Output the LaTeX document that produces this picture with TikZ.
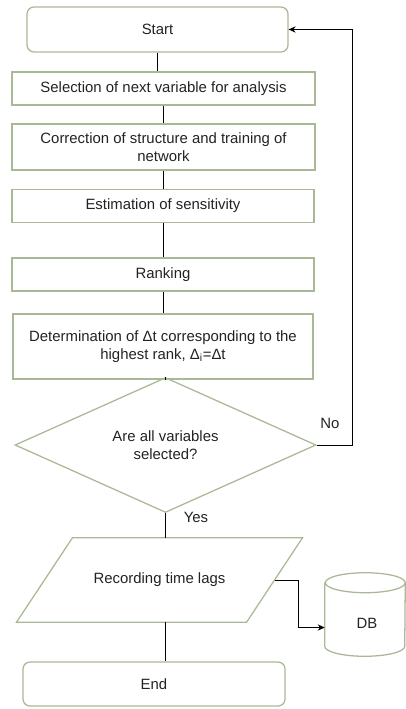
\documentclass[tikz,border=0pt]{standalone}
\usepackage{fontspec}
\setmainfont{Liberation Sans}
\usetikzlibrary{arrows.meta,shapes.geometric}
\definecolor{sage}{HTML}{A9B896}
\definecolor{txt}{HTML}{222222}
\newlength\pxu
\setlength\pxu{0.025cm}

\begin{document}
\begin{tikzpicture}[x=0.025cm,y=-0.025cm,
  every node/.style={font=\fontsize{10.6}{12.8}\selectfont,text=txt},
  edge/.style={draw=sage,line width=0.9pt},
  box/.style={edge,align=center,inner sep=2pt},
  term/.style={box,rounded corners=7\pxu},
  decision/.style={box,diamond,inner sep=0pt},
  io/.style={align=center,inner sep=0pt},
  link/.style={line width=0.7pt,black},
  arr/.style={link,-{Stealth[length=5pt,width=4.5pt]}}]
\useasboundingbox (0,0) rectangle (406,709);
\node[term,minimum width=261\pxu,minimum height=45\pxu] (start) at (157.5,29.5) {Start};
\node[box,minimum width=303\pxu,minimum height=33\pxu] (sel) at (163.5,88.5) {Selection of next variable for analysis};
\node[box,minimum width=303\pxu,minimum height=46\pxu] (corr) at (163.5,147) {Correction of structure and training of\\network};
\node[box,minimum width=302\pxu,minimum height=33\pxu] (est) at (163,206) {Estimation of sensitivity};
\node[box,minimum width=302\pxu,minimum height=33\pxu] (rank) at (163,274.5) {Ranking};
\node[box,minimum width=300\pxu,minimum height=65\pxu] (det) at (163,346.5) {Determination of Δt corresponding to the\\highest rank, Δ\textsubscript{i}=Δt};
\node[decision,minimum width=301\pxu,minimum height=104\pxu] (dia) at (165.5,445) {Are all variables\\selected?};
\node[io,minimum width=229.5\pxu,minimum height=84\pxu] (rec) at (159.5,580) {Recording time lags};
\draw[edge] ([xshift=28\pxu]rec.north west) -- ([xshift=28\pxu]rec.north east)
  -- ([xshift=-28\pxu]rec.south east) -- ([xshift=-28\pxu]rec.south west) -- cycle;
\node[minimum width=80\pxu,minimum height=83\pxu,inner sep=0pt] (base) at (365,614.5) {};
\draw[edge] ([yshift=-10\pxu]base.north west) -- ([yshift=10\pxu]base.south west)
  arc[start angle=180,end angle=360,x radius=40\pxu,y radius=10\pxu]
  -- ([yshift=-10\pxu]base.north east)
  arc[start angle=0,end angle=180,x radius=40\pxu,y radius=10\pxu]
  arc[start angle=180,end angle=360,x radius=40\pxu,y radius=10\pxu];
\node (dbname) at (367,623) {DB};
\node[term,minimum width=262\pxu,minimum height=44\pxu] (stop) at (154,684) {End};
\node (no) at (330,423) {No};
\node (yes) at (196,517) {Yes};
\draw[link] (start.south) -- (start.south |- sel.north);
\draw[link] (sel.south) -- (sel.south |- corr.north);
\draw[link] (corr.south) -- (corr.south |- est.north);
\draw[link] (est.south) -- (est.south |- rank.north);
\draw[link] (rank.south) -- (rank.south |- det.north);
\draw[link] (det.south -| dia.north) -- (dia.north);
\draw[link] (dia.south) -- (dia.south |- rec.north);
\draw[link] (dia.south |- rec.south) -- (dia.south |- stop.north);
\draw[arr] (dia.east) -- ++(36,0) |- (start.east);
\draw[arr] (rec.east) -- ++(24,0) |- ([yshift=-13\pxu]base.west);
\end{tikzpicture}
\end{document}
